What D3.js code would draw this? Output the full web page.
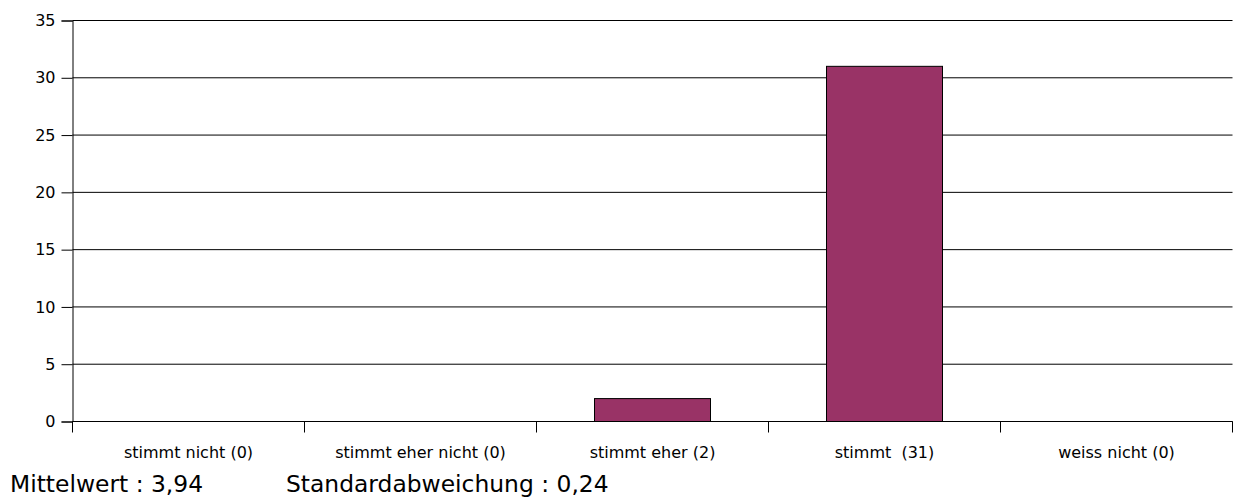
<!DOCTYPE html>
<html><head><meta charset="utf-8">
<script src="https://cdn.jsdelivr.net/npm/d3@7"></script>
<style>body{margin:0;background:#fff}svg{display:block}text{font-family:"DejaVu Sans",Verdana,sans-serif;fill:#000}</style>
</head><body>
<script>
const categories = ["stimmt nicht (0)","stimmt eher nicht (0)","stimmt eher (2)","stimmt  (31)","weiss nicht (0)"];
const values = [0,0,2,31,0];
const yTicks = [0,5,10,15,20,25,30,35];
const statsLabels = ["Mittelwert : 3,94","Standardabweichung : 0,24"];

const W=1234,H=499;
const svg=d3.select("body").append("svg").attr("width",W).attr("height",H);
const x=d3.scaleBand().domain(categories).range([72.5,1232.5]).paddingInner(0).paddingOuter(0);
const y=d3.scaleLinear().domain([0,35]).range([421.5,20.5]);

// gridlines
svg.append("g").selectAll("line").data(yTicks).join("line")
  .attr("x1",72.5).attr("x2",1232.5).attr("y1",d=>y(d)).attr("y2",d=>y(d))
  .attr("stroke","#000").attr("stroke-width",1);

// bars
svg.append("g").selectAll("rect").data(values.map((v,i)=>({c:categories[i],v}))).join("rect")
  .filter(d=>d.v>0)
  .attr("x",d=>x(d.c)+x.bandwidth()*0.25).attr("width",x.bandwidth()*0.5)
  .attr("y",d=>y(d.v)).attr("height",d=>y(0)-y(d.v))
  .attr("fill","#993366").attr("stroke","#000").attr("stroke-width",1);

// y axis
const ya=svg.append("g").attr("transform","translate(72.5,0)")
  .call(d3.axisLeft(y).tickValues(yTicks).tickSize(11).tickPadding(6));
ya.select(".domain").attr("stroke","#000");
ya.selectAll("text").attr("font-size","16px").attr("font-family","DejaVu Sans");

// x axis
const xa=svg.append("g").attr("transform","translate(0,421.5)");
xa.append("line").attr("x1",72.5).attr("x2",1232.5).attr("stroke","#000");
const edges=categories.map(c=>x(c)).concat([x(categories[categories.length-1])+x.bandwidth()]);
xa.selectAll("line.t").data(edges).join("line").attr("class","t")
  .attr("x1",d=>Math.round(d)-0.5).attr("x2",d=>Math.round(d)-0.5).attr("y1",0).attr("y2",11).attr("stroke","#000");
xa.selectAll("text").data(categories).join("text")
  .attr("x",d=>x(d)+x.bandwidth()/2).attr("y",36.5).attr("text-anchor","middle")
  .attr("font-size","16px").style("white-space","pre").text(d=>d);

// stats
svg.selectAll("text.st").data(statsLabels).join("text").attr("class","st")
  .attr("x",(d,i)=>[10,286][i]).attr("y",491.5).attr("font-size","23.4px").text(d=>d);
</script>
</body></html>
